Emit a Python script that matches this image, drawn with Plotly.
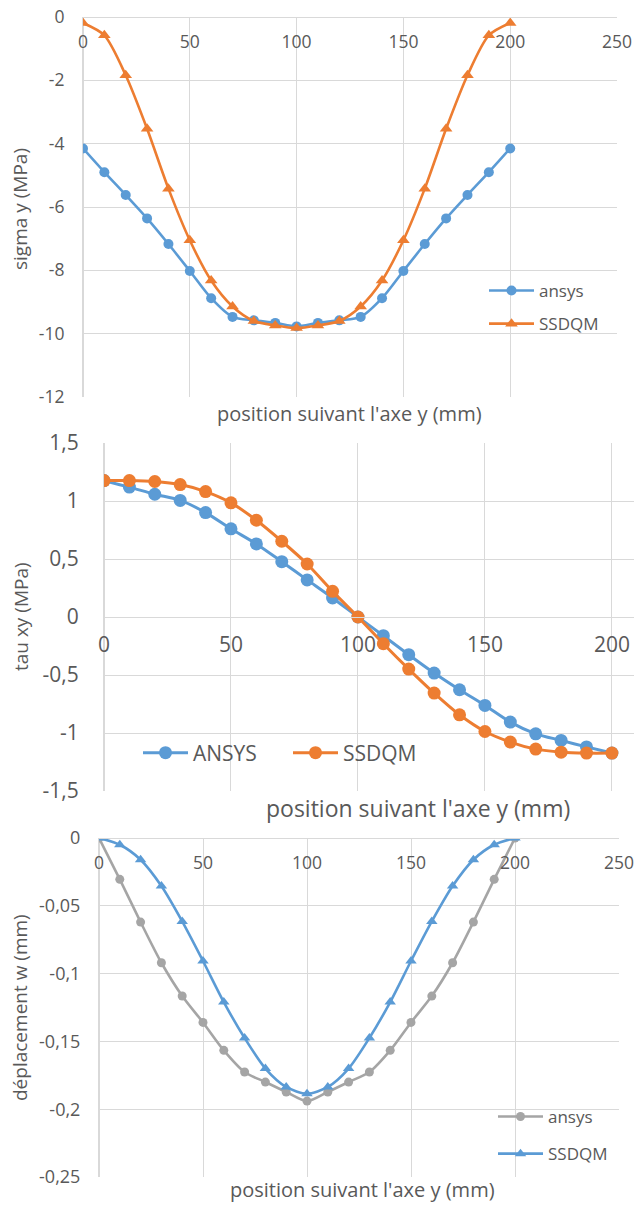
import plotly.graph_objects as go

W, H = 634, 1205
FONT = "Open Sans"
TXT = "#595959"
GRID = "#D9D9D9"
BLUE = "#5B9BD5"
ORANGE = "#ED7D31"
GRAY = "#A5A5A5"

# ---------------- data ----------------
pos = [0, 10, 20, 30, 40, 50, 60, 70, 80, 90, 100,
       110, 120, 130, 140, 150, 160, 170, 180, 190, 200]

sigma_ansys = [-4.15, -4.9, -5.62, -6.36, -7.17, -8.02, -8.88, -9.47, -9.58, -9.66, -9.77,
               -9.66, -9.58, -9.47, -8.88, -8.02, -7.17, -6.36, -5.62, -4.9, -4.15]
sigma_ssdqm = [-0.19, -0.58, -1.84, -3.53, -5.42, -7.05, -8.32, -9.14, -9.6, -9.74, -9.82,
               -9.74, -9.6, -9.14, -8.32, -7.05, -5.42, -3.53, -1.84, -0.58, -0.19]

tau_ansys = [1.176, 1.12, 1.058, 1.005, 0.90, 0.76, 0.63, 0.477, 0.32, 0.164, 0.0,
             -0.161, -0.325, -0.483, -0.627, -0.762, -0.906, -1.007, -1.064, -1.12, -1.173]
tau_ssdqm = [1.176, 1.176, 1.168, 1.142, 1.081, 0.984, 0.834, 0.653, 0.457, 0.221, 0.0,
             -0.23, -0.449, -0.656, -0.843, -0.987, -1.078, -1.139, -1.165, -1.173, -1.173]

w_ansys = [0.0, -0.0305, -0.062, -0.092, -0.1165, -0.136, -0.1566, -0.1726, -0.18, -0.1873, -0.194,
           -0.1873, -0.18, -0.1726, -0.1566, -0.136, -0.1166, -0.092, -0.062, -0.0305, 0.0]
w_ssdqm = [0.0, -0.005, -0.016, -0.0354, -0.0615, -0.0907, -0.121, -0.1475, -0.170, -0.1836, -0.1886,
           -0.1836, -0.170, -0.1475, -0.121, -0.0907, -0.0615, -0.0354, -0.016, -0.005, 0.0]

x_title = "position suivant l'axe y (mm)"
y_titles = ["sigma y (MPa)", "tau xy (MPa)", "déplacement w (mm)"]

sigma_ticks = [0, -2, -4, -6, -8, -10, -12]
tau_ticks = [1.5, 1, 0.5, 0, -0.5, -1, -1.5]
tau_ticktext = ["1,5", "1", "0,5", "0", "-0,5", "-1", "-1,5"]
w_ticks = [0, -0.05, -0.1, -0.15, -0.2, -0.25]
w_ticktext = ["0", "-0,05", "-0,1", "-0,15", "-0,2", "-0,25"]

# ---------------- layout helpers (pixel -> paper) ----------------
def px(x):
    return x / W

def py(y):
    return 1 - y / H

fig = go.Figure()

# chart 1
fig.add_trace(go.Scatter(x=pos, y=sigma_ansys, name="ansys", mode="lines+markers",
                         line=dict(color=BLUE, width=2.6, shape="spline", smoothing=0.8),
                         marker=dict(symbol="circle", size=10, color=BLUE),
                         xaxis="x", yaxis="y", legend="legend", legendgroup="a1"))
fig.add_trace(go.Scatter(x=pos, y=sigma_ssdqm, name="SSDQM", mode="lines+markers",
                         line=dict(color=ORANGE, width=2.6, shape="spline", smoothing=0.8),
                         marker=dict(symbol="triangle-up", size=11, color=ORANGE),
                         xaxis="x", yaxis="y", legend="legend", legendgroup="b1"))
# chart 2
fig.add_trace(go.Scatter(x=pos, y=tau_ansys, name="ANSYS", mode="lines+markers",
                         line=dict(color=BLUE, width=3, shape="spline", smoothing=0.8),
                         marker=dict(symbol="circle", size=13, color=BLUE),
                         xaxis="x2", yaxis="y2", legend="legend2"))
fig.add_trace(go.Scatter(x=pos, y=tau_ssdqm, name="SSDQM", mode="lines+markers",
                         line=dict(color=ORANGE, width=3, shape="spline", smoothing=0.8),
                         marker=dict(symbol="circle", size=13, color=ORANGE),
                         xaxis="x2", yaxis="y2", legend="legend2"))
# chart 3
fig.add_trace(go.Scatter(x=pos, y=w_ansys, name="ansys", mode="lines+markers",
                         line=dict(color=GRAY, width=2.6, shape="spline", smoothing=0.8),
                         marker=dict(symbol="circle", size=9, color=GRAY),
                         xaxis="x3", yaxis="y3", legend="legend3", legendgroup="a3"))
fig.add_trace(go.Scatter(x=pos, y=w_ssdqm, name="SSDQM", mode="lines+markers",
                         line=dict(color=BLUE, width=2.6, shape="spline", smoothing=0.8),
                         marker=dict(symbol="triangle-up", size=10, color=BLUE),
                         xaxis="x3", yaxis="y3", legend="legend3", legendgroup="b3"))

def xaxis(domain, rng, dtick, ypos, size):
    return dict(domain=domain, range=rng, dtick=dtick, tick0=0, anchor="free", position=ypos,
                automargin=False, ticklabeloverflow="allow",
                showgrid=True, gridcolor=GRID, gridwidth=1, zeroline=True, zerolinecolor=GRID,
                showline=True, linecolor=GRID, linewidth=1,
                ticks="outside", ticklen=9, tickcolor="rgba(0,0,0,0)",
                tickfont=dict(family=FONT, size=size, color=TXT), fixedrange=True)

def yaxis(domain, rng, tickvals, ticktext, xanchor, size, ticklen):
    return dict(domain=domain, range=rng, tickvals=tickvals, ticktext=ticktext, anchor=xanchor,
                automargin=False, ticklabeloverflow="allow",
                showgrid=True, gridcolor=GRID, gridwidth=1, zeroline=False,
                showline=False, ticks="outside", ticklen=ticklen, tickcolor="rgba(0,0,0,0)",
                tickfont=dict(family=FONT, size=size, color=TXT), fixedrange=True)

fig.update_layout(
    width=W, height=H, margin=dict(l=0, r=0, t=0, b=0, autoexpand=False),
    paper_bgcolor="white", plot_bgcolor="white",
    font=dict(family=FONT, color=TXT),
    xaxis=xaxis([px(83), px(617)], [0, 250], 50, py(17), 17.5),
    yaxis=yaxis([py(397), py(17)], [-12, 0], sigma_ticks, [str(v) for v in sigma_ticks], "x", 17.5, 14),
    xaxis2=xaxis([px(104), 1.0], [0, 208.7], 50, py(617), 21),
    yaxis2=yaxis([py(791), py(443)], [-1.5, 1.5], tau_ticks, tau_ticktext, "x2", 21, 20),
    xaxis3=xaxis([px(99), px(619)], [0, 250], 50, py(838), 17.5),
    yaxis3=yaxis([py(1177), py(838)], [-0.25, 0], w_ticks, w_ticktext, "x3", 18, 14),
    legend=dict(x=px(484), y=py(273), xanchor="left", yanchor="top", bgcolor="rgba(0,0,0,0)",
                font=dict(family=FONT, size=17, color=TXT), traceorder="grouped",
                tracegroupgap=8, itemwidth=45),
    legend2=dict(x=px(138), y=py(753), xanchor="left", yanchor="middle", orientation="h",
                 bgcolor="rgba(0,0,0,0)", font=dict(family=FONT, size=21, color=TXT),
                 entrywidth=90, itemwidth=45),
    legend3=dict(x=px(493), y=py(1099), xanchor="left", yanchor="top", bgcolor="rgba(0,0,0,0)",
                 font=dict(family=FONT, size=17, color=TXT), traceorder="grouped",
                 tracegroupgap=12, itemwidth=45),
    showlegend=True,
)

annotations = [
    dict(text=x_title, x=px(349), y=py(413), font=dict(size=20)),
    dict(text=x_title, x=px(418), y=py(808), font=dict(size=23)),
    dict(text=x_title, x=px(362), y=0.0, yanchor="bottom", font=dict(size=20)),
    dict(text=y_titles[0], x=px(20), y=py(209), textangle=-90, font=dict(size=19)),
    dict(text=y_titles[1], x=px(21), y=py(617), textangle=-90, font=dict(size=19)),
    dict(text=y_titles[2], x=px(20), y=py(1008), textangle=-90, font=dict(size=19)),
]
for a in annotations:
    a.setdefault("yanchor", "middle")
    a.update(xref="paper", yref="paper", showarrow=False, xanchor="center")
    a["font"].update(family=FONT, color=TXT)
fig.update_layout(annotations=annotations)

# the page body has a default 8px margin; remove it so the figure fills the window
fig.write_html("out.html", config={"displayModeBar": False},
               post_script="document.body.style.margin='0';")
